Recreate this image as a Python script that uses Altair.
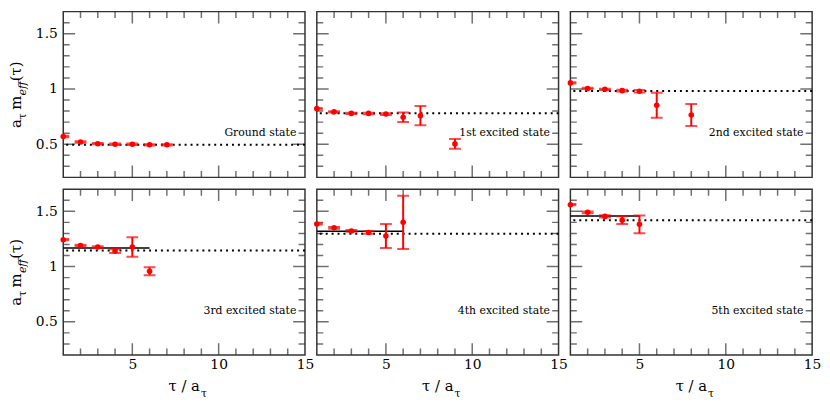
import altair as alt
import pandas as pd

# ---------------- data ----------------
states = ["Ground state", "1st excited state", "2nd excited state",
          "3rd excited state", "4th excited state", "5th excited state"]

tau_0 = [1, 2, 3, 4, 5, 6, 7]
m_0 = [0.570, 0.520, 0.505, 0.500, 0.500, 0.495, 0.495]
e_0 = [0.006, 0.006, 0.006, 0.006, 0.006, 0.006, 0.006]

tau_1 = [1, 2, 3, 4, 5, 6, 7, 9]
m_1 = [0.822, 0.793, 0.779, 0.779, 0.773, 0.744, 0.758, 0.503]
e_1 = [0.005, 0.006, 0.006, 0.007, 0.008, 0.043, 0.087, 0.044]

tau_2 = [1, 2, 3, 4, 5, 6, 8]
m_2 = [1.055, 1.005, 0.997, 0.985, 0.979, 0.852, 0.765]
e_2 = [0.005, 0.006, 0.006, 0.008, 0.012, 0.113, 0.100]

tau_3 = [1, 2, 3, 4, 5, 6]
m_3 = [1.243, 1.191, 1.177, 1.140, 1.177, 0.957]
e_3 = [0.006, 0.007, 0.008, 0.017, 0.088, 0.036]

tau_4 = [1, 2, 3, 4, 5, 6]
m_4 = [1.386, 1.351, 1.322, 1.308, 1.277, 1.400]
e_4 = [0.006, 0.008, 0.008, 0.012, 0.109, 0.240]

tau_5 = [1, 2, 3, 4, 5]
m_5 = [1.560, 1.491, 1.454, 1.420, 1.382]
e_5 = [0.006, 0.008, 0.010, 0.035, 0.080]

taus = [tau_0, tau_1, tau_2, tau_3, tau_4, tau_5]
masses = [m_0, m_1, m_2, m_3, m_4, m_5]
errors = [e_0, e_1, e_2, e_3, e_4, e_5]

# dotted reference levels (one per state)
fit_levels = [0.495, 0.780, 0.982, 1.145, 1.297, 1.420]
# solid plateau fits (bottom row only)
plateau_level = [None, None, None, 1.168, 1.320, 1.457]
plateau_from = [None, None, None, 1, 1, 1]
plateau_to = [None, None, None, 6, 6, 5]

x_major = [5, 10]
x_minor = [2, 3, 4, 6, 7, 8, 9, 11, 12, 13, 14]
y_major = [0.5, 1.0, 1.5]
y_minor = [0.3, 0.4, 0.6, 0.7, 0.8, 0.9, 1.1, 1.2, 1.3, 1.4, 1.6]
x_labels = [5, 10, 15]
y_labels = [0.5, 1.0, 1.5]

X_DOM = [1, 15]
Y_DOM = [0.2, 1.7]

# ---------------- style ----------------
W, H = 245, 168
SERIF = "DejaVu Serif"
FRAME = "#333333"
RED = "#ff0000"

xs = alt.Scale(domain=X_DOM, nice=False, zero=False)
ys = alt.Scale(domain=Y_DOM, nice=False, zero=False)
x_axis = alt.Axis(values=x_labels, title=None, labelFont=SERIF, labelFontSize=14,
                  labelColor="black", labelPadding=3, labelFlush=False,
                  labelOverlap=False, ticks=False, tickSize=0, domain=False, grid=False)
y_axis = alt.Axis(values=y_labels, format=".1~f", title=None, labelFont=SERIF,
                  labelFontSize=14, labelColor="black", labelPadding=6,
                  labelFlush=False, labelOverlap=False, ticks=False, tickSize=0,
                  domain=False, grid=False)

# tick tables built from the tick arrays
xt = pd.DataFrame(
    [{"v": v, "edge": e, "len": 24} for e in Y_DOM for v in x_major]
    + [{"v": v, "edge": e, "len": 13} for e in Y_DOM for v in x_minor])
yt = pd.DataFrame(
    [{"v": v, "edge": e, "len": 24} for e in X_DOM for v in y_major]
    + [{"v": v, "edge": e, "len": 13} for e in X_DOM for v in y_minor])


def panel(i):
    row, col = divmod(i, 3)
    showx = row == 1
    showy = col == 0

    def X(f):
        return alt.X(f, type="quantitative", scale=xs, axis=x_axis if showx else None)

    def Y(f):
        return alt.Y(f, type="quantitative", scale=ys, axis=y_axis if showy else None)

    df = pd.DataFrame({"tau": taus[i], "m": masses[i], "err": errors[i]})
    df["lo"] = df["m"] - df["err"]
    df["hi"] = df["m"] + df["err"]

    layers = []
    layers.append(alt.Chart(xt).mark_tick(orient="vertical", thickness=1.5, color=FRAME,
                                          clip=True).encode(
        x=X("v"), y=Y("edge"), size=alt.Size("len:Q", scale=None)))
    layers.append(alt.Chart(yt).mark_tick(orient="horizontal", thickness=1.5, color=FRAME,
                                          clip=True).encode(
        y=Y("v"), x=X("edge"), size=alt.Size("len:Q", scale=None)))
    layers.append(alt.Chart(pd.DataFrame({"fit": [fit_levels[i]]})).mark_rule(
        color="black", strokeWidth=2, strokeDash=[2, 4]).encode(y=Y("fit")))
    if plateau_level[i] is not None:
        pdf = pd.DataFrame({"a": [plateau_from[i]], "b": [plateau_to[i]],
                            "lvl": [plateau_level[i]]})
        layers.append(alt.Chart(pdf).mark_rule(color="black", strokeWidth=1.5).encode(
            x=X("a"), x2=alt.X2("b"), y=Y("lvl")))
    base = alt.Chart(df)
    layers.append(base.mark_rule(color=RED, strokeWidth=2, clip=True).encode(
        x=X("tau"), y=Y("lo"), y2=alt.Y2("hi")))
    layers.append(base.mark_tick(color=RED, orient="horizontal", size=12, thickness=2,
                                 clip=True).encode(x=X("tau"), y=Y("lo")))
    layers.append(base.mark_tick(color=RED, orient="horizontal", size=12, thickness=2,
                                 clip=True).encode(x=X("tau"), y=Y("hi")))
    layers.append(base.mark_circle(color=RED, size=32, opacity=1).encode(
        x=X("tau"), y=Y("m")))
    ldf = pd.DataFrame({"lx": [14.5], "ly": [0.575], "label": [states[i]]})
    layers.append(alt.Chart(ldf).mark_text(align="right", baseline="alphabetic",
                                           font=SERIF, fontSize=11, color="black").encode(
        x=X("lx"), y=Y("ly"), text="label:N"))

    if showy:
        c = H / 2
        # (text, start offset from panel centre, subscript?, italic?)
        pieces = [("a", 34, False, False), ("τ", 25, True, False),
                  ("m", 15.5, False, False), ("eff", 1.0, True, True),
                  ("(τ)", -13.5, False, False)]
        for txt, off, sub, ital in pieces:
            tdf = pd.DataFrame({"t": [txt]})
            mk = dict(align="left", baseline="alphabetic", angle=270, font=SERIF,
                      fontSize=11 if sub else 15, color="black")
            if ital:
                mk["fontStyle"] = "italic"
            layers.append(alt.Chart(tdf).mark_text(**mk).encode(
                text="t:N", x=alt.value(-38 if sub else -43), y=alt.value(c + off)))
    if showx:
        layers.append(alt.Chart(pd.DataFrame({"t": ["τ / a"]})).mark_text(
            align="right", baseline="alphabetic", font=SERIF, fontSize=15,
            color="black").encode(text="t:N", x=alt.value(W / 2 + 16),
                                  y=alt.value(H + 36)))
        layers.append(alt.Chart(pd.DataFrame({"t": ["τ"]})).mark_text(
            align="left", baseline="alphabetic", font=SERIF, fontSize=11,
            color="black").encode(text="t:N", x=alt.value(W / 2 + 17),
                                  y=alt.value(H + 43)))

    return alt.layer(*layers).properties(width=W, height=H)


chart = alt.concat(*[panel(i) for i in range(6)], columns=3, spacing=12).properties(
    bounds="flush", padding=0, background="white"
).configure_view(stroke=FRAME, strokeWidth=1.5, fill="white")

chart.save("out.html", embed_options={"renderer": "svg", "actions": False})
